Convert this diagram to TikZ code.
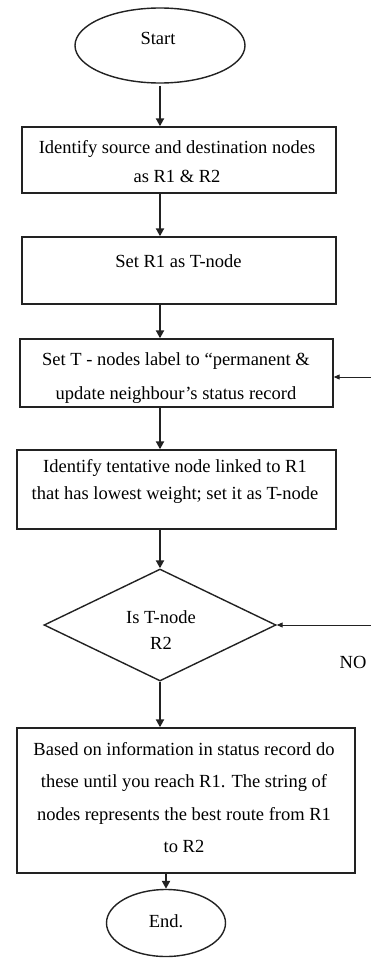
\documentclass[tikz,border=0pt]{standalone}
\usepackage{fontspec}
\setmainfont{Liberation Serif}
\usetikzlibrary{shapes.geometric,arrows.meta}
\definecolor{ink}{HTML}{222222}
\tikzset{
  box/.style={draw=ink, line width=1.4pt, rectangle, inner sep=0pt},
  oval/.style={draw=ink, line width=1.4pt, ellipse, inner sep=0pt},
  dia/.style={draw=ink, line width=1.4pt, diamond, inner sep=0pt},
  txt/.style={align=center, inner sep=0pt, text=black, font=\fontsize{18.5}{30}\selectfont},
  arr/.style={draw=ink, line width=2.2pt, -{Triangle[length=8pt,width=8pt]}},
  thinarr/.style={draw=ink, line width=1pt, -{Triangle[length=6pt,width=5pt]}},
}
\begin{document}
\begin{tikzpicture}[x=1pt,y=-1pt]
\useasboundingbox[fill=white] (0,0) rectangle (371,958);
\coordinate (ax) at (160,0);
% Start
\node[oval, minimum width=170, minimum height=75] (start) at (160,45.5) {};
\node[txt] (tstart) at (158,38) {Start};
% Box 1
\node[box, minimum width=314, minimum height=66] (b1) at (179,160) {};
\node[txt, font=\fontsize{18.5}{29}\selectfont] (t1) at (177,161.5) {Identify source and destination nodes\\as R1 \& R2};
% Box 2
\node[box, minimum width=314, minimum height=67] (b2) at (179,270.5) {};
\node[txt] (t2) at (178.5,261) {Set R1 as T-node};
% Box 3
\node[box, minimum width=313, minimum height=68] (b3) at (176.5,373) {};
\node[txt, font=\fontsize{18.5}{34}\selectfont] (t3) at (176,378) {Set T - nodes label to “permanent \&\\update neighbour’s status record};
% Box 4
\node[box, minimum width=319, minimum height=79] (b4) at (176.5,489.5) {};
\node[txt, font=\fontsize{18.5}{27}\selectfont] (t4) at (175,481.5) {Identify tentative node linked to R1\\that has lowest weight; set it as T-node};
% Decision
\node[dia, minimum width=232, minimum height=112] (d) at (160,625) {};
\node[txt, font=\fontsize{18.5}{26}\selectfont] (td) at (161,630) {Is T-node\\R2};
\node[txt] (no) at (353,662) {NO};
% Box 5
\node[box, minimum width=338, minimum height=145] (b5) at (186,800.5) {};
\node[txt, font=\fontsize{18.5}{32.3}\selectfont] (t5) at (184,797.5) {Based on information in status record do\\these until you reach R1. The string of\\nodes represents the best route from R1\\to R2};
% End
\node[oval, minimum width=119, minimum height=67] (en) at (166,923) {};
\node[txt] (ten) at (166,921) {End.};
% connectors
\draw[arr] ([yshift=-2pt]start.south) -- (start.south |- b1.north);
\draw[arr] (b1.south -| ax) -- (b2.north -| ax);
\draw[arr] (b2.south -| ax) -- (b3.north -| ax);
\draw[arr] (b3.south -| ax) -- (b4.north -| ax);
\draw[arr] (b4.south -| ax) -- (d.north);
\draw[arr] (d.south) -- (b5.north -| d.south);
\draw[arr] (b5.south -| en.north) -- (en.north);
\coordinate (r1) at (371,377);
\coordinate (r2) at (371,625);
\draw[thinarr] (r1) -- (r1 -| b3.east);
\draw[thinarr] (r2) -- (d.east);
\end{tikzpicture}
\end{document}
